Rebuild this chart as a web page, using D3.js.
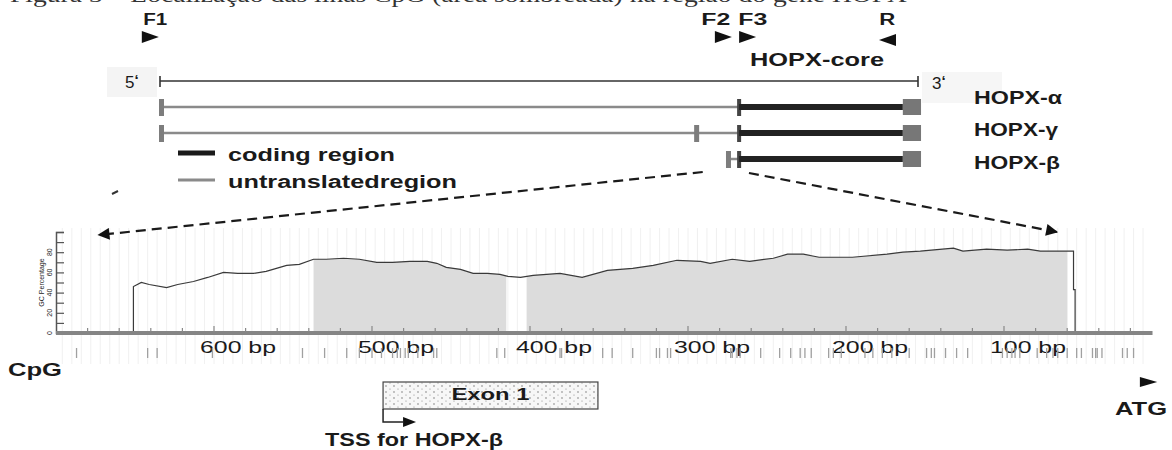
<!DOCTYPE html>
<html>
<head>
<meta charset="utf-8">
<script src="https://cdn.jsdelivr.net/npm/d3@7"></script>
<style>
  body { margin: 0; background: #fff; }
  text { font-family: "Liberation Sans", Arial, sans-serif; fill: #1a1a1a; }
</style>
</head>
<body>
<div id="vis"></div>
<script>
// ---- data ----

// gene structure (gene units, 5' = 0, 3' = 100)
let isoforms = ['HOPX-α', 'HOPX-γ', 'HOPX-β']
let utrStart = [0, 0, 74.8]
let utrTicks = [[0], [0, 70.6], [74.8]]
let cdsStart = [76.4, 76.4, 76.4]
let cdsEnd = [98, 98, 98]
let stopEnd = [100.4, 100.4, 100.4]

let primerNames = ['F1', 'F2', 'F3', 'R']
let primerPos = [-2.4, 73.2, 76.4, 97.1]
let primerDir = [1, 1, 1, -1]
let primerLabelPos = [-2.2, 71.4, 76.3, 94.9]
let primerLabelW = [24, 29, 29, 16]

// GC percentage curve (bp upstream of ATG, %)
let gcBp = [651, 651, 646, 641, 630, 623, 613, 604, 594, 585,
  575, 567, 554, 546, 537, 529, 518, 508, 497, 487,
  476, 465, 459, 453, 444, 436, 427, 419, 414, 406,
  398, 381, 367, 351, 335, 322, 307, 292, 286, 272,
  261, 246, 237, 227, 217, 196, 174, 164, 153, 132,
  126, 111, 98, 85, 77, 56, 56, 55, 55]
let gcPct = [0, 46, 50, 48, 45, 48, 51, 55, 60, 59,
  59, 61, 67, 68, 73, 73, 74, 73, 70, 70,
  71, 71, 69, 65, 63, 59, 59, 58, 56, 55,
  57, 59, 55, 62, 64, 67, 72, 71, 69, 73,
  71, 74, 78, 78, 75, 75, 78, 80, 81, 84,
  81, 83, 82, 83, 81, 81, 43, 43, 0]

// CpG islands (shaded), bp
let islandStart = [537, 402]
let islandEnd = [415, 60]

// CpG sites, bp
let cpgSites = [687, 642, 636, 601, 544, 530, 516, 508, 500, 494, 487, 484, 482, 479, 477,
  471, 461, 459, 421, 416, 381, 380, 354, 348, 335, 320, 318, 313, 311,
  273, 272, 269, 267, 254, 242, 235, 229, 226, 222, 211, 208,
  203, 188, 183, 177, 171, 160, 149, 146, 144, 137, 130, 123,
  101, 98, 95, 93, 90, 79, 73, 69, 66, 60, 54, 51, 44, 42, 41, 38, 25, 22, 18]

let bpTicks = [600, 500, 400, 300, 200, 100]
let bpLabels = ['600 bp', '500 bp', '400 bp', '300 bp', '200 bp', '100 bp']
let pctTicks = [0, 20, 40, 60, 80]

// exon 1 / TSS (bp)
let exonStart = 493
let exonEnd = 357

// ---- svg ----
let svg = d3.select('#vis')
  .append('svg')
  .attr('width', 1172)
  .attr('height', 450)
  .style('background-color', 'white')

let defs = svg.append('defs')

defs.append('marker')
  .attr('id', 'arrow')
  .attr('viewBox', '0 0 10 10')
  .attr('refX', 9)
  .attr('refY', 5)
  .attr('markerUnits', 'userSpaceOnUse')
  .attr('markerWidth', 17)
  .attr('markerHeight', 12)
  .attr('orient', 'auto')
  .append('path')
  .attr('d', 'M0,0 L10,5 L0,10 Z')
  .attr('fill', '#111')

let dots = defs.append('pattern')
  .attr('id', 'dots')
  .attr('patternUnits', 'userSpaceOnUse')
  .attr('width', 8)
  .attr('height', 6)
dots.append('rect').attr('width', 8).attr('height', 6).attr('fill', '#f7f7f7')
dots.append('circle').attr('cx', 2).attr('cy', 2).attr('r', 0.7).attr('fill', '#666')
dots.append('circle').attr('cx', 6).attr('cy', 5).attr('r', 0.6).attr('fill', '#888')

// helper for stretched text (the picture is wide)
function label(g, str, x, y, size, width, weight, anchor) {
  let t = g.append('text')
    .attr('x', x)
    .attr('y', y)
    .attr('font-size', size)
    .attr('font-weight', weight || 'bold')
    .attr('text-anchor', anchor || 'start')
    .text(str)
  if (width) t.attr('textLength', width).attr('lengthAdjust', 'spacingAndGlyphs')
  return t
}

// cut off caption at the very top
svg.append('text')
  .attr('x', 10)
  .attr('y', 2)
  .attr('font-size', 21)
  .style('font-family', '"Liberation Serif", "Times New Roman", serif')
  .style('fill', '#333')
  .attr('textLength', 897)
  .attr('lengthAdjust', 'spacingAndGlyphs')
  .text('Figura 3 – Localização das ilhas CpG (área sombreada) na região do gene HOPX')

// ---- gene structure ----
let geneX = d3.scaleLinear().domain([0, 100]).range([160, 918])
let isoY = [107, 133, 159]
let gene = svg.append('g')

// faint patches behind 5' and 3'
gene.append('rect').attr('x', 107).attr('y', 67).attr('width', 50).attr('height', 30).attr('fill', '#f4f4f4')
gene.append('rect').attr('x', 922).attr('y', 72).attr('width', 80).attr('height', 31).attr('fill', '#f6f6f6')

// primers
primerNames.forEach(function (p, i) {
  let x0 = geneX(primerPos[i])
  let w = 17
  let d = 'M' + x0 + ',31 L' + (x0 + w) + ',37 L' + x0 + ',43 Z'
  if (primerDir[i] < 0) d = 'M' + (x0 - w) + ',40 L' + x0 + ',34 L' + x0 + ',46 Z'
  gene.append('path').attr('d', d).attr('fill', '#111')
  label(gene, p, geneX(primerLabelPos[i]), 25, 16, primerLabelW[i])
})
label(gene, 'HOPX-core', 750, 66, 18, 134)

// 5' - 3' line
gene.append('line')
  .attr('x1', geneX(0)).attr('x2', geneX(100))
  .attr('y1', 81).attr('y2', 81)
  .attr('stroke', '#333').attr('stroke-width', 1.6)
;[0, 100].forEach(function (v) {
  gene.append('line')
    .attr('x1', geneX(v)).attr('x2', geneX(v))
    .attr('y1', 76).attr('y2', 87)
    .attr('stroke', '#333').attr('stroke-width', 1.6)
})
let five = label(gene, '5', 125, 88, 17, null, 'normal')
five.append('tspan').attr('dy', -3).attr('font-size', 15).attr('font-weight', 'bold').text('‘')
let three = label(gene, '3', 932, 89, 17, null, 'normal')
three.append('tspan').attr('dy', -3).attr('font-size', 15).attr('font-weight', 'bold').text('‘')

// isoforms
isoforms.forEach(function (name, i) {
  let yy = isoY[i]
  gene.append('line')
    .attr('x1', geneX(utrStart[i])).attr('x2', geneX(cdsStart[i]))
    .attr('y1', yy).attr('y2', yy)
    .attr('stroke', '#8a8a8a').attr('stroke-width', 2.5)
  utrTicks[i].forEach(function (v) {
    gene.append('rect')
      .attr('x', geneX(v) - 1).attr('y', yy - 8)
      .attr('width', 5).attr('height', 17)
      .attr('fill', '#7d7d7d')
  })
  gene.append('rect')
    .attr('x', geneX(cdsStart[i]) - 2).attr('y', yy - 8)
    .attr('width', 4).attr('height', 17)
    .attr('fill', '#444')
  gene.append('line')
    .attr('x1', geneX(cdsStart[i])).attr('x2', geneX(cdsEnd[i]))
    .attr('y1', yy).attr('y2', yy)
    .attr('stroke', '#222').attr('stroke-width', 6)
  gene.append('rect')
    .attr('x', geneX(cdsEnd[i])).attr('y', yy - 8)
    .attr('width', geneX(stopEnd[i]) - geneX(cdsEnd[i])).attr('height', 16)
    .attr('fill', '#777')
})
label(gene, isoforms[0], 974, 104, 18, 88)
label(gene, isoforms[1], 974, 136, 18, 84)
label(gene, isoforms[2], 974, 169, 18, 86)

// legend
gene.append('line').attr('x1', 178).attr('x2', 215).attr('y1', 153).attr('y2', 153)
  .attr('stroke', '#1a1a1a').attr('stroke-width', 5)
gene.append('line').attr('x1', 178).attr('x2', 215).attr('y1', 180).attr('y2', 180)
  .attr('stroke', '#8a8a8a').attr('stroke-width', 3)
label(gene, 'coding region', 228, 161, 18, 167)
label(gene, 'untranslatedregion', 228, 188, 18, 229)

// ---- GC plot ----
let x = d3.scaleLinear().domain([700, 0]).range([56, 1162])
let y = d3.scaleLinear().domain([0, 100]).range([333, 232])
let plot = svg.append('g')

// faint vertical grid
plot.selectAll('.grid')
  .data(d3.range(696, 6, -6))
  .join('line')
  .attr('class', 'grid')
  .attr('x1', d => x(d)).attr('x2', d => x(d))
  .attr('y1', 228).attr('y2', 364)
  .attr('stroke', '#ececec').attr('stroke-width', 0.8)

// shaded CpG islands
islandStart.forEach(function (s, i) {
  defs.append('clipPath').attr('id', 'isl' + i)
    .append('rect')
    .attr('x', x(s)).attr('y', 200)
    .attr('width', x(islandEnd[i]) - x(s)).attr('height', 200)
})
let gcData = gcBp.map((b, i) => [b, gcPct[i]])
let area = d3.area().x(d => x(d[0])).y0(y(0)).y1(d => y(d[1]))
islandStart.forEach(function (s, i) {
  plot.append('path')
    .datum(gcData)
    .attr('d', area)
    .attr('fill', '#dcdcdc')
    .attr('clip-path', 'url(#isl' + i + ')')
})

// GC curve
plot.append('path')
  .datum(gcData)
  .attr('d', d3.line().x(d => x(d[0])).y(d => y(d[1])))
  .attr('fill', 'none')
  .attr('stroke', '#3a3a3a')
  .attr('stroke-width', 1.2)

// y axis
let yAxis = plot.append('g')
  .attr('transform', 'translate(' + x(700) + ',0)')
  .call(d3.axisLeft(y).tickValues(d3.range(0, 101, 10)).tickSize(-8).tickFormat(''))
yAxis.select('.domain').attr('stroke', '#555').attr('stroke-width', 1.5)
yAxis.selectAll('.tick line').attr('stroke', '#555').attr('stroke-width', 1.2)
pctTicks.forEach(function (v) {
  plot.append('text')
    .attr('transform', 'translate(52,' + y(v) + ') rotate(-90)')
    .attr('text-anchor', 'middle')
    .attr('font-size', 7)
    .text(v)
})
plot.append('text')
  .attr('transform', 'translate(44,' + y(50) + ') rotate(-90)')
  .attr('text-anchor', 'middle')
  .attr('font-size', 7)
  .text('GC Percentage')

// baseline and bp ticks
plot.append('line')
  .attr('x1', x(700)).attr('x2', x(6))
  .attr('y1', 333).attr('y2', 333)
  .attr('stroke', '#858585').attr('stroke-width', 4)
plot.selectAll('.bptick')
  .data(d3.range(680, 0, -20))
  .join('line')
  .attr('class', 'bptick')
  .attr('x1', d => x(d)).attr('x2', d => x(d))
  .attr('y1', d => d % 100 === 0 ? 326 : 328).attr('y2', 332)
  .attr('stroke', '#888').attr('stroke-width', 1.2)
bpTicks.forEach(function (b, i) {
  label(plot, bpLabels[i], x(b) + 24, 353, 17, 76, 'normal', 'middle')
})

// CpG sites
plot.selectAll('.cpg')
  .data(cpgSites)
  .join('line')
  .attr('class', 'cpg')
  .attr('x1', d => x(d)).attr('x2', d => x(d))
  .attr('y1', 348).attr('y2', 358)
  .attr('stroke', '#a0a0a0').attr('stroke-width', 1.3)
label(plot, 'CpG', 8, 376, 19, 54)

// zoom dashes from the gene map to the GC plot
svg.append('line')
  .attr('x1', geneX(71.6)).attr('y1', 172)
  .attr('x2', x(673)).attr('y2', 235)
  .attr('stroke', '#1a1a1a').attr('stroke-width', 2.2)
  .attr('stroke-dasharray', '10,6')
  .attr('marker-end', 'url(#arrow)')
svg.append('line')
  .attr('x1', geneX(77.7)).attr('y1', 173)
  .attr('x2', x(66.5)).attr('y2', 232)
  .attr('stroke', '#1a1a1a').attr('stroke-width', 2.2)
  .attr('stroke-dasharray', '10,6')
  .attr('marker-end', 'url(#arrow)')
svg.append('line')
  .attr('x1', 112).attr('y1', 194).attr('x2', 118).attr('y2', 191)
  .attr('stroke', '#333').attr('stroke-width', 2)

// exon 1 and TSS
let ex = svg.append('g')
ex.append('rect')
  .attr('x', x(exonStart)).attr('y', 382)
  .attr('width', x(exonEnd) - x(exonStart)).attr('height', 27)
  .attr('fill', 'url(#dots)')
  .attr('stroke', '#444').attr('stroke-width', 1.2)
label(ex, 'Exon 1', (x(exonStart) + x(exonEnd)) / 2, 400, 16, 78, 'bold', 'middle')
ex.append('path')
  .attr('d', 'M' + x(exonStart) + ',409 V422 H' + (x(exonStart) + 20))
  .attr('fill', 'none').attr('stroke', '#222').attr('stroke-width', 1.5)
ex.append('path')
  .attr('d', 'M' + (x(exonStart) + 20) + ',417 L' + (x(exonStart) + 33) + ',422 L' + (x(exonStart) + 20) + ',427 Z')
  .attr('fill', '#111')
label(ex, 'TSS for HOPX-β', 325, 446, 18, 178)

// ATG
svg.append('path')
  .attr('d', 'M' + x(14) + ',377 L' + x(3) + ',382 L' + x(14) + ',387 Z')
  .attr('fill', '#111')
label(svg, 'ATG', 1115, 415, 18, 52)
</script>
</body>
</html>
